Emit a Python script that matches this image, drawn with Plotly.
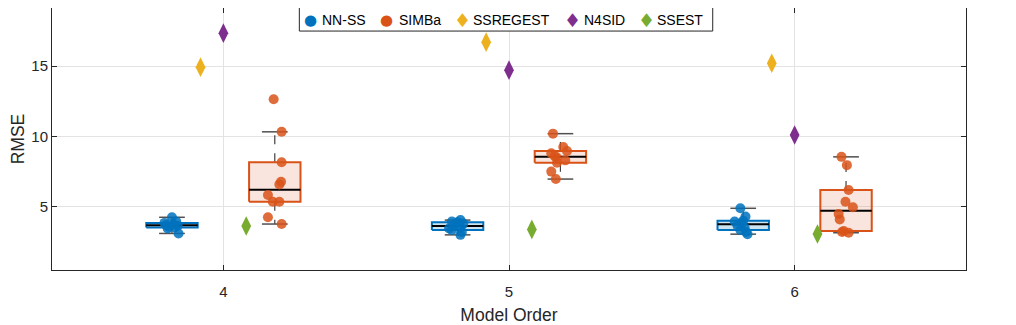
import numpy as np
import plotly.graph_objects as go

orders = [4, 5, 6]

# RMSE per run (10 runs per model order)
nnss_rmse = [
    [3.10, 3.45, 3.52, 3.58, 3.65, 3.70, 3.75, 3.85, 3.95, 4.25],
    [3.00, 3.20, 3.35, 3.45, 3.55, 3.70, 3.80, 3.90, 3.95, 4.05],
    [3.05, 3.20, 3.34, 3.50, 3.65, 3.85, 3.95, 4.00, 4.30, 4.89],
]
simba_rmse = [
    [3.77, 4.25, 5.36, 5.36, 5.83, 6.59, 6.78, 8.16, 10.33, 12.65],
    [6.97, 7.50, 8.13, 8.30, 8.50, 8.60, 8.80, 8.97, 9.25, 10.20],
    [3.15, 3.20, 3.27, 4.10, 4.48, 4.96, 5.36, 6.19, 7.96, 8.55],
]
ssregest_rmse = [14.93, 16.71, 15.21]
n4sid_rmse = [17.35, 14.72, 10.10]
ssest_rmse = [3.63, 3.39, 3.06]

# swarm jitter of each point (offset from the model order)
nnss_jitter = [
    [-0.157, -0.195, -0.170, -0.190, -0.160, -0.200, -0.175, -0.206, -0.165, -0.180],
    [-0.170, -0.165, -0.200, -0.210, -0.170, -0.190, -0.160, -0.180, -0.200, -0.170],
    [-0.165, -0.170, -0.190, -0.175, -0.200, -0.185, -0.210, -0.180, -0.172, -0.190],
]
simba_jitter = [
    [0.204, 0.156, 0.173, 0.196, 0.156, 0.196, 0.202, 0.204, 0.204, 0.176],
    [0.164, 0.148, 0.168, 0.197, 0.167, 0.160, 0.148, 0.203, 0.190, 0.154],
    [0.189, 0.166, 0.172, 0.158, 0.154, 0.204, 0.178, 0.189, 0.183, 0.164],
]

legend_names = ["NN-SS", "SIMBa", "SSREGEST", "N4SID", "SSEST"]

BLUE = "#0072BD"
ORANGE = "#D95319"
YELLOW = "#EDB120"
PURPLE = "#7E2F8E"
GREEN = "#77AC30"
INK = "#262626"
FONT = "Liberation Sans, Arial, sans-serif"

BOX_W = 0.18


def box_stats(vals):
    v = np.sort(np.asarray(vals, dtype=float))
    q1, med, q3 = np.quantile(v, [0.25, 0.5, 0.75], method="hazen")
    iqr = q3 - q1
    lo = v[v >= q1 - 1.5 * iqr].min()
    hi = v[v <= q3 + 1.5 * iqr].max()
    return q1, med, q3, lo, hi


def add_boxes(fig, groups, offset, color, fill):
    bx, by, wx, wy, cx, cy, mx, my = [], [], [], [], [], [], [], []
    for order, vals in zip(orders, groups):
        q1, med, q3, lo, hi = box_stats(vals)
        c = order + offset
        l, r = c - BOX_W / 2, c + BOX_W / 2
        bx += [l, r, r, l, l, None]
        by += [q1, q1, q3, q3, q1, None]
        wx += [c, c, None, c, c, None]
        wy += [q3, hi, None, q1, lo, None]
        cx += [c - BOX_W / 4, c + BOX_W / 4, None, c - BOX_W / 4, c + BOX_W / 4, None]
        cy += [hi, hi, None, lo, lo, None]
        mx += [l, r, None]
        my += [med, med, None]
    fig.add_trace(go.Scatter(x=wx, y=wy, mode="lines", showlegend=False, hoverinfo="skip",
                             line=dict(color="#404040", width=1.2, dash="dash")))
    fig.add_trace(go.Scatter(x=cx, y=cy, mode="lines", showlegend=False, hoverinfo="skip",
                             line=dict(color="#505050", width=1.5)))
    fig.add_trace(go.Scatter(x=bx, y=by, mode="lines", fill="toself", fillcolor=fill,
                             showlegend=False, hoverinfo="skip",
                             line=dict(color=color, width=2)))
    fig.add_trace(go.Scatter(x=mx, y=my, mode="lines", showlegend=False, hoverinfo="skip",
                             line=dict(color="black", width=2)))


def swarm_xy(groups, jitter):
    xs, ys = [], []
    for order, vals, jit in zip(orders, groups, jitter):
        xs += [order + j for j in jit]
        ys += list(vals)
    return xs, ys


fig = go.Figure()

add_boxes(fig, nnss_rmse, -0.18, BLUE, "rgba(0,114,189,0.2)")
add_boxes(fig, simba_rmse, 0.18, ORANGE, "rgba(217,83,25,0.15)")

x, y = swarm_xy(nnss_rmse, nnss_jitter)
fig.add_trace(go.Scatter(x=x, y=y, mode="markers", name="NN-SS",
                         marker=dict(color=BLUE, size=10, opacity=0.85)))
x, y = swarm_xy(simba_rmse, simba_jitter)
fig.add_trace(go.Scatter(x=x, y=y, mode="markers", name="SIMBa",
                         marker=dict(color=ORANGE, size=10, opacity=0.85)))

# single-run baselines
fig.add_trace(go.Scatter(x=[o - 0.08 for o in orders], y=ssregest_rmse, mode="markers",
                         name="SSREGEST", marker=dict(color=YELLOW, size=14, symbol="diamond-tall")))
fig.add_trace(go.Scatter(x=orders, y=n4sid_rmse, mode="markers", name="N4SID",
                         marker=dict(color=PURPLE, size=14, symbol="diamond-tall")))
fig.add_trace(go.Scatter(x=[o + 0.08 for o in orders], y=ssest_rmse, mode="markers",
                         name="SSEST", marker=dict(color=GREEN, size=14, symbol="diamond-tall")))

# compact MATLAB-style legend box (plotly's own legend is too roomy here)
fig.add_shape(type="rect", xref="paper", yref="paper", x0=0.2706, x1=0.7229, y0=0.912, y1=1.002,
              line=dict(color=INK, width=1), fillcolor="white", layer="above")
glyphs = ["\u25cf", "\u25cf", "\u2666", "\u2666", "\u2666"]
glyph_colors = [BLUE, ORANGE, YELLOW, PURPLE, GREEN]
glyph_x = [0.2830, 0.3662, 0.4486, 0.5697, 0.6499]
text_x = [0.2951, 0.3800, 0.4603, 0.5821, 0.6623]
for name, g, gc, gx, tx in zip(legend_names, glyphs, glyph_colors, glyph_x, text_x):
    fig.add_annotation(x=gx, y=0.955, xref="paper", yref="paper", text=g, showarrow=False,
                       xanchor="center", yanchor="middle",
                       font=dict(family="DejaVu Sans", size=15 if g == "\u25cf" else 19, color=gc))
    fig.add_annotation(x=tx, y=0.955, xref="paper", yref="paper", text=name, showarrow=False,
                       xanchor="left", yanchor="middle", xshift=-2,
                       font=dict(family=FONT, size=14, color="black"))

axis_style = dict(
    showgrid=True, gridcolor="#e3e3e3", gridwidth=1,
    ticks="inside", ticklen=5, tickcolor=INK, tickwidth=1,
    showline=True, linecolor=INK, linewidth=1, mirror="ticks",
    zeroline=False, automargin=False,
    tickfont=dict(family=FONT, size=15, color=INK),
)
title_font = dict(family=FONT, size=17.5, color=INK)

# the page body adds an 8px offset, so the figure is sized to fit inside the window
fig.update_layout(
    width=1008, height=317,
    margin=dict(l=44, r=50, t=0, b=55),
    plot_bgcolor="white", paper_bgcolor="white",
    font=dict(family=FONT, size=15, color=INK),
    xaxis=dict(range=[3.4, 6.6], tickvals=orders, ticklabelstandoff=8,
               title=dict(text="Model Order", font=title_font), **axis_style),
    yaxis=dict(range=[0.5, 19.14], tickvals=[5, 10, 15],
               title=dict(text="RMSE", font=title_font), **axis_style),
    showlegend=False,
)

fig.write_html("out.html")
